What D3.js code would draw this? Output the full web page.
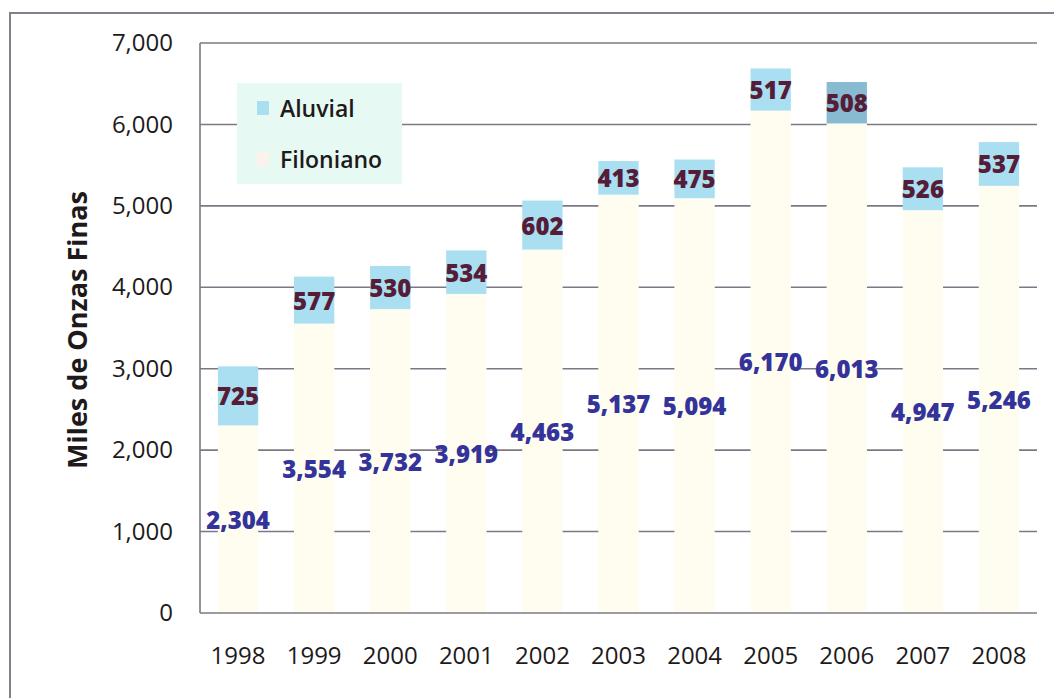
<!DOCTYPE html>
<html>
<head>
<meta charset="utf-8">
<script src="https://cdn.jsdelivr.net/npm/d3@7"></script>
<style>
  html, body { margin: 0; padding: 0; background: #ffffff; }
  svg { display: block; }
  text { font-family: "Open Sans", "Noto Sans", sans-serif; }
</style>
</head>
<body>
<svg id="chart" width="1054" height="698"></svg>
<script>
// Producción de oro por tipo de yacimiento (miles de onzas finas)
const years = ["1998", "1999", "2000", "2001", "2002", "2003", "2004", "2005", "2006", "2007", "2008"];
const filoniano = [2304, 3554, 3732, 3919, 4463, 5137, 5094, 6170, 6013, 4947, 5246];
const aluvial = [725, 577, 530, 534, 602, 413, 475, 517, 508, 526, 537];
const yTicks = [0, 1000, 2000, 3000, 4000, 5000, 6000, 7000];
const seriesNames = ["Aluvial", "Filoniano"];

const svg = d3.select("#chart");
const W = 1054, H = 698;
const plot = { left: 200, right: 1037, top: 43, bottom: 613 };

const colors = {
  filoniano: "#fffcf0",
  aluvial: "#a9dff0",
  aluvialDark: "#88bbd1",
  filLabel: "#33339a",
  aluLabel: "#561d38",
  grid: "#7d7883",
  text: "#1e1a1b"
};

// outer frame
svg.append("rect")
  .attr("x", 10).attr("y", 13)
  .attr("width", W + 20).attr("height", H + 20)
  .attr("fill", "#ffffff")
  .attr("stroke", "#857f8c").attr("stroke-width", 2);

const x = d3.scaleBand()
  .domain(years)
  .range([plot.left, plot.right])
  .paddingInner(0.47)
  .paddingOuter(0.235);

const y = d3.scaleLinear()
  .domain([0, 7000])
  .range([plot.bottom, plot.top]);

// gridlines
svg.append("g")
  .selectAll("line")
  .data(yTicks.filter(d => d > 0))
  .join("line")
  .attr("x1", plot.left).attr("x2", plot.right)
  .attr("y1", d => y(d)).attr("y2", d => y(d))
  .attr("stroke", colors.grid).attr("stroke-width", 1.6);

// stacked bars
const rows = years.map((yr, i) => ({ year: yr, filoniano: filoniano[i], aluvial: aluvial[i] }));
const stack = d3.stack().keys(["filoniano", "aluvial"])(rows);

const gBars = svg.append("g");
stack.forEach(layer => {
  gBars.append("g")
    .selectAll("rect")
    .data(layer)
    .join("rect")
    .attr("x", d => x(d.data.year))
    .attr("width", x.bandwidth())
    .attr("y", d => y(d[1]))
    .attr("height", d => y(d[0]) - y(d[1]))
    .attr("fill", d => layer.key === "filoniano"
      ? colors.filoniano
      : (d.data.year === "2006" ? colors.aluvialDark : colors.aluvial));
});

// axes lines
svg.append("line")
  .attr("x1", plot.left).attr("x2", plot.left)
  .attr("y1", plot.top).attr("y2", plot.bottom)
  .attr("stroke", colors.grid).attr("stroke-width", 1.6);
svg.append("line")
  .attr("x1", plot.left).attr("x2", plot.right)
  .attr("y1", plot.bottom).attr("y2", plot.bottom)
  .attr("stroke", colors.grid).attr("stroke-width", 1.6);

// y axis tick labels
const fmt = d3.format(",");
const yAxis = d3.axisLeft(y).tickValues(yTicks).tickFormat(fmt).tickSize(0).tickPadding(27);
const gy = svg.append("g").attr("transform", `translate(${plot.left},0)`).call(yAxis);
gy.select(".domain").remove();
gy.selectAll("text")
  .attr("font-size", 24).attr("font-weight", 500).attr("fill", colors.text)
  .style("font-family", "'Open Sans', sans-serif");

// x axis labels
const xAxis = d3.axisBottom(x).tickSize(0).tickPadding(34);
const gx = svg.append("g").attr("transform", `translate(0,${plot.bottom})`).call(xAxis);
gx.select(".domain").remove();
gx.selectAll("text")
  .attr("font-size", 24).attr("font-weight", 500).attr("fill", colors.text)
  .style("font-family", "'Open Sans', sans-serif");

// y axis title
svg.append("text")
  .attr("transform", `translate(76,${(plot.top + plot.bottom) / 2 + 2}) rotate(-90)`)
  .attr("text-anchor", "middle")
  .attr("dominant-baseline", "central")
  .attr("font-size", 27).attr("font-weight", 700)
  .attr("fill", colors.text)
  .text("Miles de Onzas Finas");

// value labels
const cx = d => x(d.data.year) + x.bandwidth() / 2;
stack.forEach(layer => {
  svg.append("g")
    .selectAll("text")
    .data(layer)
    .join("text")
    .attr("x", cx)
    .attr("y", d => y((d[0] + d[1]) / 2))
    .attr("text-anchor", "middle")
    .attr("dominant-baseline", "central")
    .attr("font-size", 24).attr("font-weight", 800)
    .attr("fill", layer.key === "filoniano" ? colors.filLabel : colors.aluLabel)
    .text(d => fmt(d[1] - d[0]));
});

// legend
const lg = svg.append("g");
lg.append("rect")
  .attr("x", 237).attr("y", 83).attr("width", 165).attr("height", 101)
  .attr("fill", "#e7f9f3");
const legendItems = [
  { name: seriesNames[0], color: colors.aluvial },
  { name: seriesNames[1], color: "#fdf1ec" }
];
legendItems.forEach((it, i) => {
  const yy = 108 + i * 51;
  lg.append("rect")
    .attr("x", 257).attr("y", yy - 7).attr("width", 12).attr("height", 14)
    .attr("fill", it.color);
  lg.append("text")
    .attr("x", 280).attr("y", yy)
    .attr("dominant-baseline", "central")
    .attr("font-size", 23).attr("font-weight", 600)
    .attr("fill", colors.text)
    .text(it.name);
});
</script>
</body>
</html>
